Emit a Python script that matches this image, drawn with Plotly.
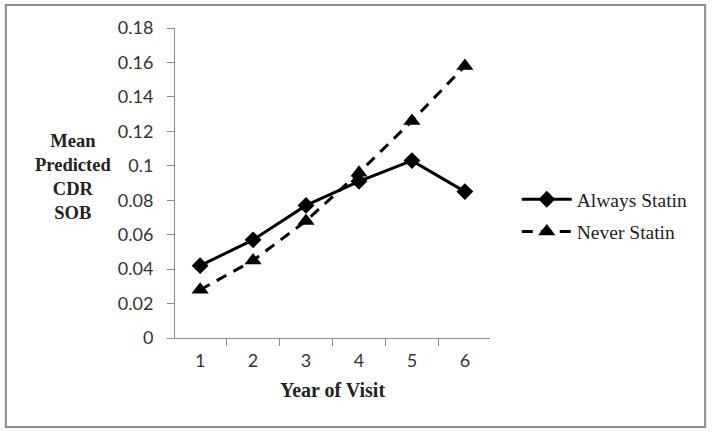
import plotly.graph_objects as go

years = ["1", "2", "3", "4", "5", "6"]
always_statin = [0.042, 0.057, 0.077, 0.091, 0.103, 0.085]
never_statin = [0.028, 0.045, 0.068, 0.096, 0.126, 0.158]
y_ticks = [0, 0.02, 0.04, 0.06, 0.08, 0.1, 0.12, 0.14, 0.16, 0.18]

serif = "Liberation Serif, Times New Roman, serif"

fig = go.Figure()
fig.add_trace(go.Scatter(x=years, y=always_statin, name="Always Statin", mode="lines+markers",
                         legendgroup="a",
                         line=dict(color="black", width=3),
                         marker=dict(symbol="diamond", size=13, color="black")))
fig.add_trace(go.Scatter(x=years, y=never_statin, name="Never Statin", mode="lines+markers",
                         legendgroup="b",
                         line=dict(color="black", width=3, dash="11px,8px"),
                         marker=dict(symbol="triangle-up", size=15, color="black")))

axis_font = dict(family="Lato, Open Sans, sans-serif", size=18, color="#333")
fig.update_xaxes(type="category", tickson="boundaries", ticks="outside", ticklen=7,
                 showline=True, linecolor="#8c8c8c", linewidth=1, tickcolor="#8c8c8c",
                 showgrid=False, tickfont=axis_font, ticklabelstandoff=6,
                 title=dict(text="<b>Year of Visit</b>", standoff=13,
                            font=dict(family=serif, size=20, color="#222")))
fig.update_yaxes(range=[0, 0.18], tickvals=y_ticks, ticks="outside", ticklen=7,
                 showline=True, linecolor="#8c8c8c", linewidth=1, tickcolor="#8c8c8c",
                 showgrid=False, zeroline=False, tickfont=axis_font, ticklabelstandoff=10)

fig.update_layout(
    width=714, height=434,
    margin=dict(l=175, r=224, t=28, b=96),
    plot_bgcolor="white", paper_bgcolor="white",
    showlegend=True,
    legend=dict(x=1.085, y=0.395, yanchor="middle", xanchor="left",
                font=dict(family=serif, size=19.5, color="#222"),
                tracegroupgap=4, itemwidth=50),
    annotations=[dict(text="<b>Mean<br>Predicted<br>CDR<br>SOB</b>", xref="paper", yref="paper",
                      x=-0.324, y=0.52, xanchor="center", yanchor="middle", showarrow=False,
                      font=dict(family=serif, size=18.5, color="#222"))],
    shapes=[dict(type="rect", xref="paper", yref="paper", x0=-0.537, x1=1.683, y0=-0.287, y1=1.074,
                 line=dict(color="#8c8c8c", width=2))],
)

fig.write_html("out.html", config={"displayModeBar": False},
               post_script="document.body.style.margin='0';")
